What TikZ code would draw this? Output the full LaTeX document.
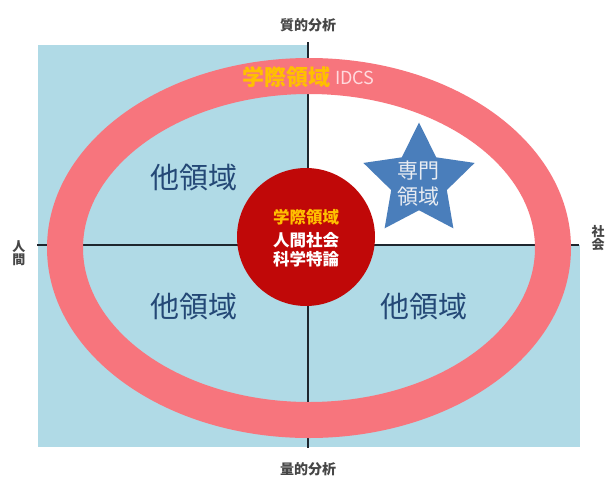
\documentclass[tikz,border=0pt]{standalone}
\usepackage{fontspec}
\setmainfont{Noto Sans CJK JP}
\usetikzlibrary{shapes.geometric}
\definecolor{bgblue}{RGB}{176,218,230}
\definecolor{ringpink}{RGB}{247,117,125}
\definecolor{circred}{RGB}{192,8,8}
\definecolor{starblue}{RGB}{74,126,187}
\definecolor{otherblue}{RGB}{36,72,118}
\definecolor{gold}{RGB}{255,192,0}
\definecolor{axisdark}{RGB}{30,38,46}
\definecolor{labelgray}{RGB}{70,70,70}
\definecolor{idcspink}{RGB}{255,218,222}
\definecolor{startext}{RGB}{232,236,242}
\tikzset{
  axisline/.style={draw=axisdark, line width=2.4pt},
  other/.style={text=otherblue, font=\fontsize{29}{32}\selectfont, inner sep=0pt},
  axislabel/.style={text=labelgray, font=\bfseries\fontsize{14}{16}\selectfont, inner sep=0pt},
  sidelabel/.style={text=labelgray, font=\bfseries\fontsize{13}{13.5}\selectfont, inner sep=0pt, align=center},
  coretext/.style={text=white, font=\bfseries\fontsize{16.5}{19}\selectfont, inner sep=0pt},
}
\begin{document}
\begin{tikzpicture}[x=1pt,y=-1pt]
\useasboundingbox (0,0) rectangle (605,477);
\fill[white] (0,0) rectangle (605,477);
% background quadrants
\fill[bgblue] (38,45) rectangle (580,447);
\fill[white] (308,45) rectangle (580,245);
% axes
\coordinate (atop) at (308,42);
\coordinate (abot) at (308,448);
\coordinate (alft) at (37,245);
\coordinate (argt) at (579,245);
\draw[axisline] (atop) -- (abot);
\draw[axisline] (alft) -- (argt);
% ring
\draw[ringpink, line width=36pt] (309,248) ellipse [x radius=244pt, y radius=172pt];
% core circle
\node[circle, fill=circred, minimum size=138pt, inner sep=0pt] (core) at (306,237) {};
\node[coretext, text=gold] (core1) at (306,217) {学際領域};
\node[coretext] (core2) at (306,240) {人間社会};
\node[coretext] (core3) at (306,259) {科学特論};
% star
\node[star, star points=5, star point ratio=2, fill=starblue, minimum size=117pt, inner sep=0pt] (spec) at (419,181) {};
\node[text=startext, font=\fontsize{21}{26}\selectfont, align=center, inner sep=0pt] (spectext) at (418,184) {専門\\領域};
% other fields
\node[other] (oUL) at (194,178) {他領域};
\node[other] (oLL) at (194,307) {他領域};
\node[other] (oLR) at (424,307) {他領域};
% ring title
\node[inner sep=0pt, anchor=east, text=gold, font=\bfseries\fontsize{22}{24}\selectfont] (idcsj) at (331,77) {学際領域};
\node[inner sep=0pt, anchor=west, text=idcspink, font=\fontsize{18}{20}\selectfont] (idcs) at (335,78) {IDCS};
% axis labels
\node[axislabel] (qual) at (308,25) {質的分析};
\node[axislabel] (quant) at (308,469) {量的分析};
\node[sidelabel] (human) at (19,253) {人\\間};
\node[sidelabel] (society) at (598,238) {社\\会};
\end{tikzpicture}
\end{document}
